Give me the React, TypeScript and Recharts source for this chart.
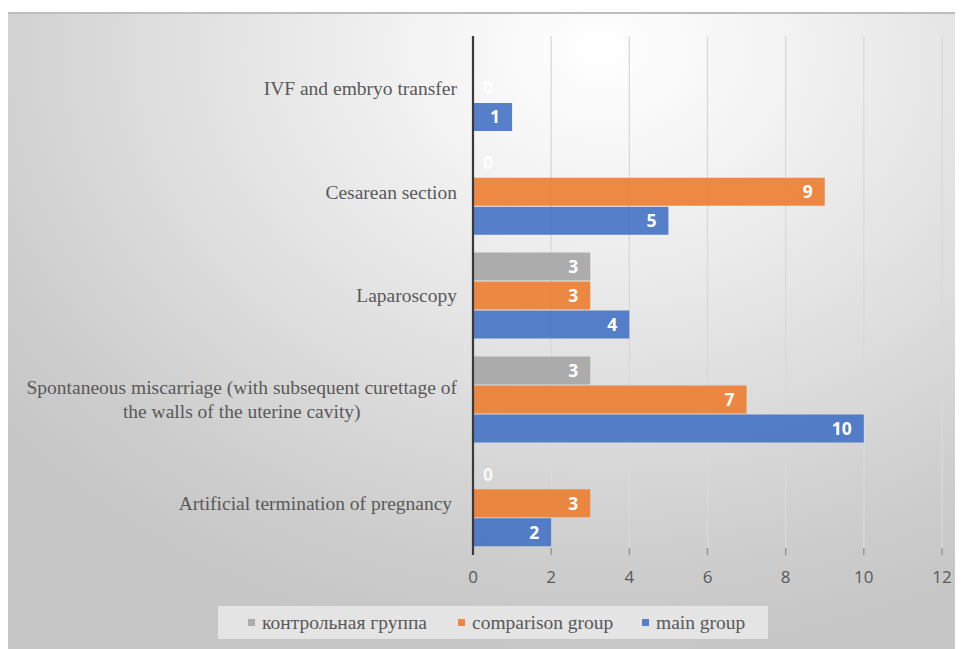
import React from "react";
import {
  BarChart,
  Bar,
  XAxis,
  YAxis,
  CartesianGrid,
  Legend,
  LabelList,
} from "recharts";

// Procedures, listed top to bottom
const categories: string[] = [
  "IVF and embryo transfer",
  "Cesarean section",
  "Laparoscopy",
  "Spontaneous miscarriage (with subsequent curettage of\nthe walls of the uterine cavity)",
  "Artificial termination of pregnancy ",
];

// Case counts per group (null = not reported)
const controlGroup: (number | null)[] = [null, 0, 3, 3, 0];
const comparisonGroup: (number | null)[] = [0, 9, 3, 7, 3];
const mainGroup: (number | null)[] = [1, 5, 4, 10, 2];

const xTicks: number[] = [0, 2, 4, 6, 8, 10, 12];

const seriesNames = {
  control: "контрольная группа",
  comparison: "comparison group",
  main: "main group",
};

const colors = {
  control: "#A5A5A5",
  comparison: "#ED7D31",
  main: "#4472C4",
};

const data = categories.map((name, i) => ({
  name,
  control: controlGroup[i],
  comparison: comparisonGroup[i],
  main: mainGroup[i],
}));

const SERIF = "'Liberation Serif', 'Times New Roman', serif";
const SANS = "'Open Sans', 'Liberation Sans', sans-serif";
const TEXT_COLOR = "#595959";
const CAT_FONT_SIZE = 19.5;

let measureCtx: CanvasRenderingContext2D | null = null;
function measure(text: string): number {
  if (!measureCtx) {
    const c = document.createElement("canvas");
    measureCtx = c.getContext("2d");
  }
  if (!measureCtx) return text.length * CAT_FONT_SIZE * 0.45;
  measureCtx.font = `${CAT_FONT_SIZE}px ${SERIF}`;
  return measureCtx.measureText(text).width;
}

// Category label: lines centred within a block whose right edge sits at x
const CategoryTick = (props: any) => {
  const { x, y, payload } = props;
  const lines: string[] = String(payload.value).split("\n");
  const maxW = Math.max(...lines.map((l) => measure(l)));
  const cx = x - maxW / 2;
  const lineH = 24;
  const startY = y - ((lines.length - 1) * lineH) / 2;
  return (
    <g>
      {lines.map((l, i) => (
        <text
          key={i}
          x={cx}
          y={startY + i * lineH}
          dy="0.35em"
          textAnchor="middle"
          fontFamily={SERIF}
          fontSize={CAT_FONT_SIZE}
          fill={TEXT_COLOR}
          style={{ whiteSpace: "pre" }}
        >
          {l}
        </text>
      ))}
    </g>
  );
};

// White value label at the inner end of each bar (zero values sit just right of the axis)
const ValueLabel = (props: any) => {
  const { x, y, width, height, value } = props;
  if (value === null || value === undefined) return null;
  const zero = Number(value) === 0;
  const tx = zero ? x + 10 : x + width - 12;
  return (
    <text
      x={tx}
      y={y + height / 2}
      dy="0.36em"
      textAnchor={zero ? "start" : "end"}
      fontFamily={SANS}
      fontWeight={700}
      fontSize={17.5}
      fill="#ffffff"
      fillOpacity={zero ? 0.85 : 1}
    >
      {value}
    </text>
  );
};

const LegendBox = () => {
  const items = [
    { key: "control", label: seriesNames.control, color: colors.control, w: 210 },
    { key: "comparison", label: seriesNames.comparison, color: colors.comparison, w: 184 },
    { key: "main", label: seriesNames.main, color: colors.main, w: 110 },
  ];
  return (
    <div
      style={{
        height: 33,
        width: 550,
        boxSizing: "border-box",
        background: "rgba(238,238,238,0.75)",
        display: "flex",
        alignItems: "center",
        paddingLeft: 30,
      }}
    >
      {items.map((it) => (
        <div
          key={it.key}
          style={{ display: "flex", alignItems: "center", width: it.w, flex: "none" }}
        >
          <span
            style={{
              display: "inline-block",
              width: 7,
              height: 7,
              background: it.color,
              opacity: 0.9,
              marginRight: 7,
            }}
          />
          <span
            style={{
              fontFamily: SERIF,
              fontSize: CAT_FONT_SIZE,
              color: TEXT_COLOR,
              lineHeight: "20px",
              whiteSpace: "nowrap",
            }}
          >
            {it.label}
          </span>
        </div>
      ))}
    </div>
  );
};

const zeroPointSize = (value: any) => (value === 0 ? 0.5 : 0);

export default function App() {
  return (
    <div
      style={{
        position: "relative",
        marginTop: 4,
        width: 955,
        height: 637,
        background:
          "radial-gradient(ellipse 80% 95% at 62% 6%, #ffffff 0%, #f4f4f4 22%, #e0e0e0 55%, #cdcdcd 85%, #c6c6c6 100%)",
        boxShadow: "inset 0 2px 0 #bdbdbd",
      }}
    >
      <BarChart
        width={955}
        height={637}
        data={data}
        layout="vertical"
        margin={{ top: 24, right: 21, left: 0, bottom: 16 }}
        barCategoryGap={9}
        barGap={1}
      >
        <CartesianGrid horizontal={false} vertical stroke="#d9d9d9" strokeWidth={1.3} />
        <XAxis
          type="number"
          domain={[0, 12]}
          ticks={xTicks}
          interval={0}
          axisLine={false}
          tickLine={{ stroke: "#8c8c8c", strokeWidth: 1.3 }}
          tickSize={-7}
          tickMargin={23}
          height={45}
          tick={{ fill: TEXT_COLOR, fontFamily: SANS, fontSize: 17 }}
        />
        <YAxis
          type="category"
          dataKey="name"
          width={465}
          interval={0}
          axisLine={{ stroke: "#3a3a3a", strokeWidth: 2.2 }}
          tickLine={false}
          tickSize={0}
          tickMargin={16}
          tick={<CategoryTick />}
        />
        <Legend
          verticalAlign="bottom"
          content={<LegendBox />}
          wrapperStyle={{ left: 210, bottom: 10, width: 550, height: 33 }}
        />
        <Bar
          dataKey="control"
          name={seriesNames.control}
          fill={colors.control}
          fillOpacity={0.9}
          minPointSize={zeroPointSize}
          isAnimationActive={false}
        >
          <LabelList dataKey="control" content={<ValueLabel />} />
        </Bar>
        <Bar
          dataKey="comparison"
          name={seriesNames.comparison}
          fill={colors.comparison}
          fillOpacity={0.9}
          minPointSize={zeroPointSize}
          isAnimationActive={false}
        >
          <LabelList dataKey="comparison" content={<ValueLabel />} />
        </Bar>
        <Bar
          dataKey="main"
          name={seriesNames.main}
          fill={colors.main}
          fillOpacity={0.9}
          minPointSize={zeroPointSize}
          isAnimationActive={false}
        >
          <LabelList dataKey="main" content={<ValueLabel />} />
        </Bar>
      </BarChart>
    </div>
  );
}
